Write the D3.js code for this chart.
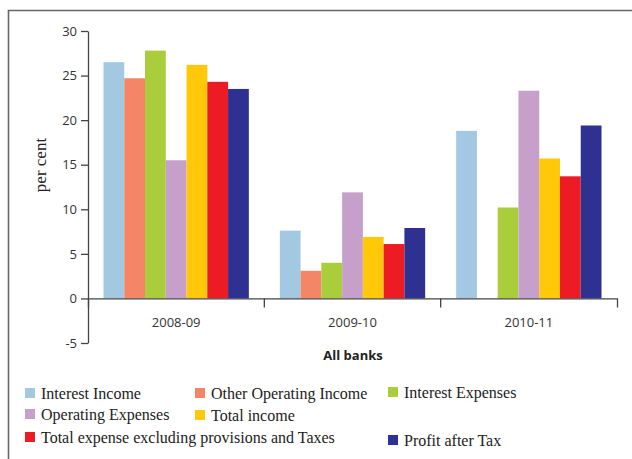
<html>
<meta charset="utf-8">
<script src="https://d3js.org/d3.v7.min.js"></script>
<style>
  body { margin: 0; background: #fff; }
  .axis text { font-family: "Open Sans", "DejaVu Sans", sans-serif; font-size: 13px; fill: #333; }
  .axis path, .axis line { stroke: #444; stroke-width: 1.3; }
  .legend text { font-family: "Liberation Serif", "DejaVu Serif", serif; font-size: 16px; fill: #222; }
</style>
<body>
<div id="chart"></div>
<script>
const years = ["2008-09", "2009-10", "2010-11"];
const series = [
  "Interest Income",
  "Other Operating Income",
  "Interest Expenses",
  "Operating Expenses",
  "Total income",
  "Total expense excluding provisions and Taxes",
  "Profit after Tax"
];
const colors = ["#a3c8e2", "#f48667", "#a9cd3b", "#c6a0cb", "#ffc90a", "#ed1c24", "#2e3192"];
// one array per year, in series order
const values2008 = [26.5, 24.7, 27.8, 15.5, 26.2, 24.3, 23.5];
const values2009 = [7.6, 3.1, 4.0, 11.9, 6.9, 6.1, 7.9];
const values2010 = [18.8, 0, 10.2, 23.3, 15.7, 13.7, 19.4];
const yTicks = [-5, 0, 5, 10, 15, 20, 25, 30];

const allValues = [values2008, values2009, values2010];

const width = 632, height = 459;

const svg = d3.select('#chart')
  .append('svg')
  .attr('width', width)
  .attr('height', height);

// frame of the printed chart box
svg.append('path')
  .attr('d', 'M8.5,459 L8.5,10.5 L632,10.5')
  .attr('fill', 'none')
  .attr('stroke', '#666')
  .attr('stroke-width', 1.6);

const x0 = d3.scaleBand()
  .domain(years)
  .range([88, 617]);

const x1 = d3.scaleBand()
  .domain(series)
  .range([15.5, x0.bandwidth() - 15.5]);

const y = d3.scaleLinear()
  .domain([-5, 30])
  .range([343, 31]);

// bars
const groups = svg.selectAll('.year')
  .data(years)
  .enter()
  .append('g')
  .attr('class', 'year')
  .attr('transform', d => `translate(${x0(d)},0)`);

groups.selectAll('rect')
  .data((d, i) => allValues[i].map((v, j) => ({ key: series[j], value: v, color: colors[j] })))
  .enter()
  .append('rect')
  .attr('x', d => x1(d.key))
  .attr('width', x1.bandwidth())
  .attr('y', d => y(Math.max(0, d.value)))
  .attr('height', d => Math.abs(y(d.value) - y(0)))
  .attr('fill', d => d.color);

// y axis
svg.append('g')
  .attr('class', 'axis')
  .attr('transform', 'translate(88,0)')
  .call(d3.axisLeft(y).tickValues(yTicks).tickFormat(d => String(d))
    .tickSize(7).tickSizeOuter(0).tickPadding(4));

// x axis at zero
const xAxis = svg.append('g')
  .attr('class', 'axis')
  .attr('transform', `translate(0,${y(0)})`)
  .call(d3.axisBottom(x0).tickSize(0).tickSizeOuter(9));
xAxis.selectAll('.tick text').attr('y', 19);

xAxis.selectAll('.boundary')
  .data(years.slice(1))
  .enter()
  .append('line')
  .attr('class', 'boundary')
  .attr('x1', d => x0(d))
  .attr('x2', d => x0(d))
  .attr('y1', 0)
  .attr('y2', 9);

svg.append('text')
  .attr('transform', 'translate(46,165) rotate(-90)')
  .attr('text-anchor', 'middle')
  .style('font-family', '"Liberation Serif", "DejaVu Serif", serif')
  .style('font-size', '17px')
  .style('fill', '#222')
  .text('per cent');

svg.append('text')
  .attr('x', 353)
  .attr('y', 360)
  .attr('text-anchor', 'middle')
  .style('font-family', '"Open Sans", "DejaVu Sans", sans-serif')
  .style('font-size', '13px')
  .style('font-weight', 'bold')
  .style('fill', '#222')
  .text('All banks');

// legend
const legendPos = [
  [25, 393], [195, 393], [388, 392],
  [25, 414], [195, 415],
  [25, 437], [388, 440]
];

const legend = svg.append('g').attr('class', 'legend');
const item = legend.selectAll('g')
  .data(series)
  .enter()
  .append('g')
  .attr('transform', (d, i) => `translate(${legendPos[i][0]},${legendPos[i][1]})`);

item.append('rect')
  .attr('x', 0)
  .attr('y', -5)
  .attr('width', 10)
  .attr('height', 10)
  .attr('fill', (d, i) => colors[i]);

item.append('text')
  .attr('x', 16)
  .attr('y', 6)
  .text(d => d);
</script>
</body>
</html>
